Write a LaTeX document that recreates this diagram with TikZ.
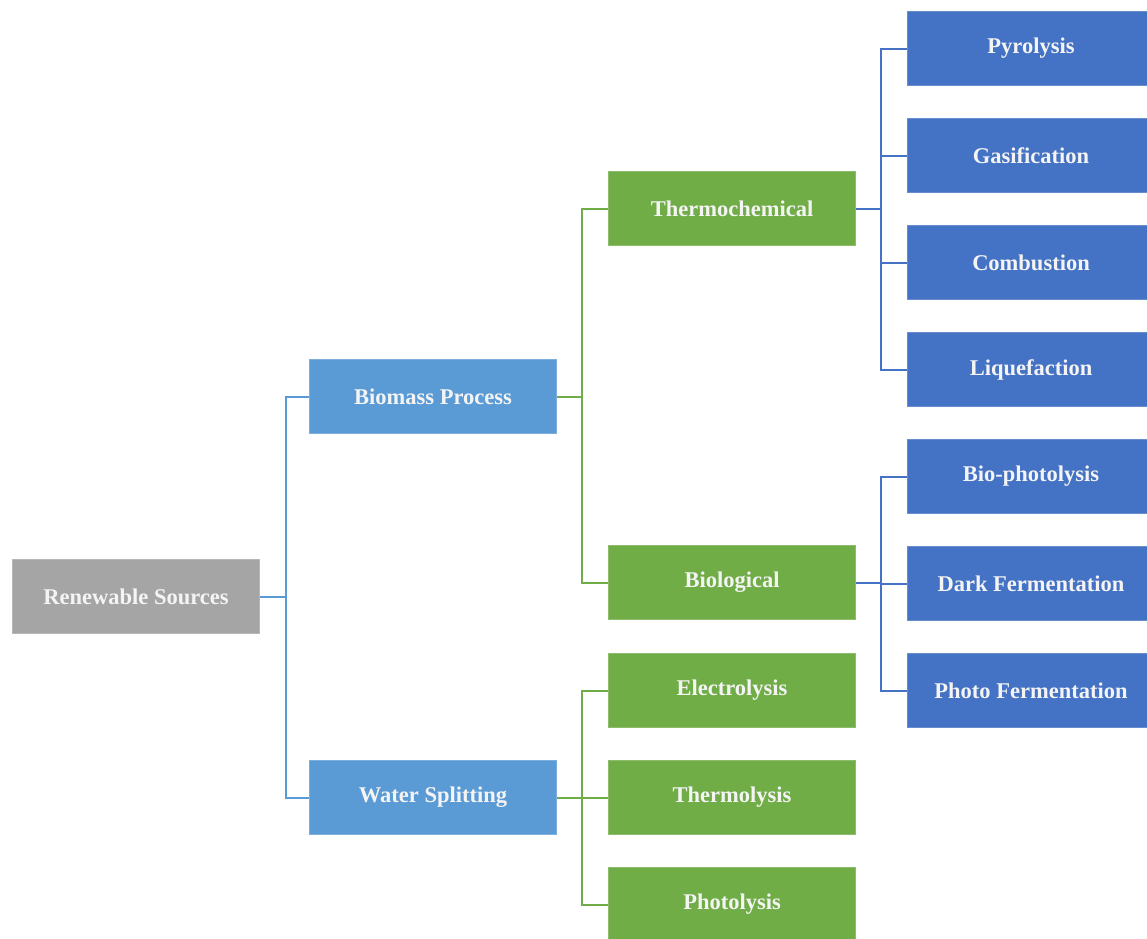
\documentclass[tikz,border=0pt]{standalone}
\usepackage{fontspec}
\setmainfont{Liberation Serif}
\definecolor{cgray}{HTML}{A5A5A5}
\definecolor{cblue}{HTML}{5B9BD5}
\definecolor{cgreen}{HTML}{70AD47}
\definecolor{cdblue}{HTML}{4472C4}
\definecolor{ctext}{HTML}{F4F4F4}
\begin{document}
\begin{tikzpicture}[x=1pt,y=-1pt,
  box/.style={minimum width=247pt,minimum height=74pt,inner sep=0pt,
    font=\fontsize{22.5}{27}\selectfont\bfseries,text=ctext,anchor=north west},
  graybox/.style={box,fill=cgray,draw=cgray!80!white,line width=1pt},
  bluebox/.style={box,fill=cblue,draw=cblue!80!white,line width=1pt},
  greenbox/.style={box,fill=cgreen,draw=cgreen!80!white,line width=1pt},
  dbluebox/.style={box,fill=cdblue,draw=cdblue!80!white,line width=1pt},
  lblue/.style={draw=cblue,line width=2pt},
  lgreen/.style={draw=cgreen,line width=2pt},
  ldblue/.style={draw=cdblue,line width=2pt}]
\clip (0,0) rectangle (1147,938);
\fill[white] (0,0) rectangle (1147,938);
% level 0
\node[graybox] (rs) at (12,559) {Renewable Sources};
% level 1
\node[bluebox] (bp) at (309,359) {Biomass Process};
\node[bluebox] (ws) at (309,760) {Water Splitting};
% level 2
\node[greenbox] (tc) at (608,171) {Thermochemical};
\node[greenbox] (bi) at (608,545) {Biological};
\node[greenbox] (el) at (608,653) {Electrolysis};
\node[greenbox] (tl) at (608,760) {Thermolysis};
\node[greenbox] (pl) at (608,867) {Photolysis};
% level 3
\node[dbluebox] (py) at (907,11) {Pyrolysis};
\node[dbluebox] (ga) at (907,118) {Gasification};
\node[dbluebox] (co) at (907,225) {Combustion};
\node[dbluebox] (lq) at (907,332) {Liquefaction};
\node[dbluebox] (bph) at (907,439) {Bio-photolysis};
\node[dbluebox] (df) at (907,546) {Dark Fermentation};
\node[dbluebox] (pf) at (907,653) {Photo Fermentation};
% connectors
\draw[lblue] (rs.east) -- ++(26,0) |- (bp.west);
\draw[lblue] (rs.east) -- ++(26,0) |- (ws.west);
\draw[lgreen] (bp.east) -- ++(25,0) |- (tc.west);
\draw[lgreen] (bp.east) -- ++(25,0) |- (bi.west);
\draw[lgreen] (ws.east) -- ++(25,0) |- (el.west);
\draw[lgreen] (ws.east) -- ++(25,0) |- (tl.west);
\draw[lgreen] (ws.east) -- ++(25,0) |- (pl.west);
\draw[ldblue] (tc.east) -- ++(25,0) |- (py.west);
\draw[ldblue] (tc.east) -- ++(25,0) |- (ga.west);
\draw[ldblue] (tc.east) -- ++(25,0) |- (co.west);
\draw[ldblue] (tc.east) -- ++(25,0) |- (lq.west);
\draw[ldblue] (bi.east) -- ++(25,0) |- (bph.west);
\draw[ldblue] (bi.east) -- ++(25,0) |- (df.west);
\draw[ldblue] (bi.east) -- ++(25,0) |- (pf.west);
\end{tikzpicture}
\end{document}
